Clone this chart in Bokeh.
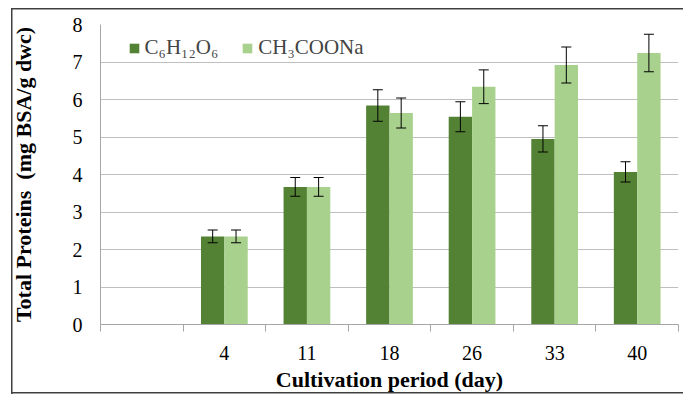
import numpy as np
from bokeh.plotting import figure
from bokeh.models import (ColumnDataSource, Whisker, TeeHead, FixedTicker, Legend, LegendItem,
                          Range1d)
from bokeh.embed import file_html
from bokeh.resources import INLINE

# ---- data ----
categories = ["", "4", "11", "18", "26", "33", "40"]
glucose = [2.35, 3.67, 5.84, 5.54, 4.95, 4.07]
glucose_err = [0.17, 0.25, 0.42, 0.40, 0.35, 0.27]
acetate = [2.35, 3.67, 5.64, 6.34, 6.92, 7.24]
acetate_err = [0.17, 0.25, 0.40, 0.45, 0.48, 0.50]
series_names = ["C\u2086H\u2081\u2082O\u2086", "CH\u2083COONa"]

FONT = "Liberation Serif"
DARK = "#548235"
LIGHT = "#A9D18E"
BW = 0.283
EDGE = "#404040"

centers = np.arange(1, len(categories)) + 0.5
src_g = ColumnDataSource(dict(x=centers - BW / 2, top=glucose,
                              lo=np.array(glucose) - np.array(glucose_err),
                              hi=np.array(glucose) + np.array(glucose_err)))
src_a = ColumnDataSource(dict(x=centers + BW / 2, top=acetate,
                              lo=np.array(acetate) - np.array(acetate_err),
                              hi=np.array(acetate) + np.array(acetate_err)))

p = figure(width=683, height=394, output_backend="svg", toolbar_location=None,
           x_range=Range1d(0, len(categories)), y_range=Range1d(0, 8),
           min_border_left=100, min_border_right=5, min_border_top=24, min_border_bottom=69)
p.outline_line_color = None
p.border_fill_color = None
p.background_fill_color = "white"
g = f"linear-gradient({EDGE},{EDGE})"
p.styles = {"background": (f"{g} 11px 8px / 1.5px 386px no-repeat, "
                           f"{g} 11px 8px / 672px 1.5px no-repeat, "
                           f"{g} 11px 392px / 672px 1.5px no-repeat, white")}

r1 = p.vbar(x="x", top="top", width=BW, source=src_g, fill_color=DARK, line_color=None)
r2 = p.vbar(x="x", top="top", width=BW, source=src_a, fill_color=LIGHT, line_color=None)

for src in (src_g, src_a):
    w = Whisker(base="x", lower="lo", upper="hi", source=src, line_color="black", line_width=1,
                level="overlay",
                upper_head=TeeHead(size=10, line_color="black", line_width=1),
                lower_head=TeeHead(size=10, line_color="black", line_width=1))
    p.add_layout(w)

# x axis: labels at centers, ticks between categories
ticks = [i + 0.5 for i in range(len(categories))]
p.xaxis.ticker = FixedTicker(ticks=ticks, minor_ticks=list(range(len(categories) + 1)))
p.xaxis.major_label_overrides = {t: c for t, c in zip(ticks, categories)}
p.xaxis.major_tick_out = 0
p.xaxis.major_tick_in = 0
p.xaxis.minor_tick_out = 7
p.xaxis.minor_tick_in = 0
p.xaxis.minor_tick_line_color = "#a6a6a6"
p.xaxis.axis_line_color = "#a6a6a6"
p.xaxis.major_label_standoff = 14
p.xaxis.axis_label = "Cultivation period (day)"
p.xaxis.axis_label_standoff = 4

p.yaxis.ticker = FixedTicker(ticks=list(range(0, 9)))
p.yaxis.major_tick_out = 0
p.yaxis.major_tick_in = 0
p.yaxis.minor_tick_line_color = None
p.yaxis.axis_line_color = "#a6a6a6"
p.yaxis.major_label_standoff = 18
p.yaxis.axis_label = "Total Proteins\u00a0\u00a0(mg BSA/g dwc)"
p.yaxis.axis_label_standoff = 34

for ax in (p.xaxis, p.yaxis):
    ax.major_label_text_font = FONT
    ax.major_label_text_font_size = "20px"
    ax.major_label_text_color = "black"
    ax.axis_label_text_font = FONT
    ax.axis_label_text_font_size = "22px"
    ax.axis_label_text_font_style = "bold"
    ax.axis_label_text_color = "black"

p.xgrid.grid_line_color = None
p.ygrid.grid_line_color = "#bfbfbf"
p.ygrid.ticker = FixedTicker(ticks=list(range(0, 9)))

legend = Legend(items=[LegendItem(label=series_names[0], renderers=[r1]),
                       LegendItem(label=series_names[1], renderers=[r2])],
                orientation="horizontal", location=(27.6, 264),
                glyph_width=12, glyph_height=12, label_standoff=5, spacing=23,
                label_text_font=FONT, label_text_font_size="21px",
                border_line_color=None, background_fill_alpha=0, padding=4, margin=0)
p.add_layout(legend)

open("out.html", "w").write(file_html(p, INLINE))
